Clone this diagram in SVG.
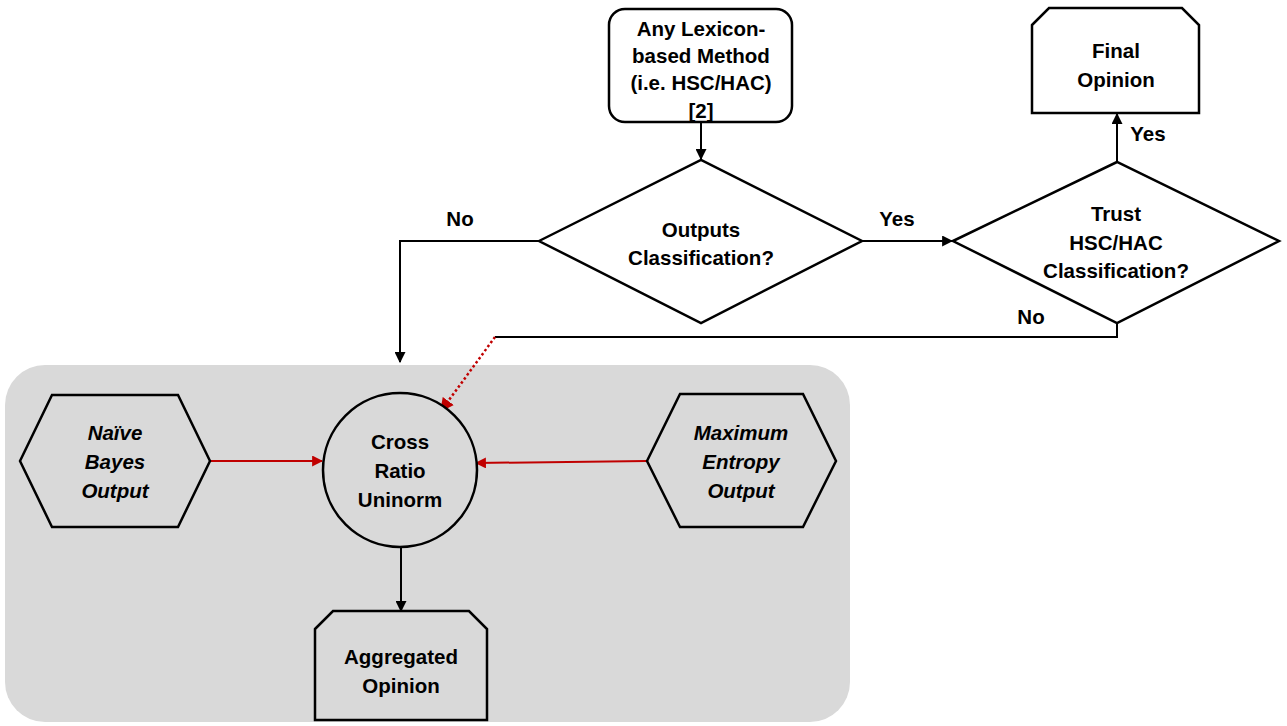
<svg xmlns="http://www.w3.org/2000/svg" width="1287" height="726" viewBox="0 0 1287 726">
<defs>
<style>
.shape{fill:#fff;stroke:#000;stroke-width:2.5}
.gshape{fill:#d9d9d9;stroke:#000;stroke-width:2.5}
.t{font-family:"Liberation Sans",Arial,sans-serif;font-weight:bold;font-size:20.5px;fill:#000;text-anchor:middle;dominant-baseline:central}
.it{font-style:italic}
.c{fill:none;stroke:#000;stroke-width:2}
.r{fill:none;stroke:#c00000;stroke-width:2}
.rd{fill:none;stroke:#c00000;stroke-width:2.5;stroke-dasharray:2.5,2.5}
</style>
<marker id="ab" viewBox="0 0 10 10" refX="9" refY="5" markerWidth="5.5" markerHeight="5.5" orient="auto"><path d="M0,0 L10,5 L0,10 z" fill="#000"/></marker>
<marker id="ar" viewBox="0 0 10 10" refX="9" refY="5" markerWidth="5.5" markerHeight="5.5" orient="auto"><path d="M0,0 L10,5 L0,10 z" fill="#c00000"/></marker>
</defs>
<rect x="0" y="0" width="1287" height="726" fill="#fff"/>
<rect id="panel" x="5" y="365" width="845" height="357" rx="40" fill="#d9d9d9"/>

<g id="connectors">
<line class="c" x1="701" y1="122" x2="701" y2="159" marker-end="url(#ab)"/>
<line class="c" x1="862" y1="241" x2="952" y2="241" marker-end="url(#ab)"/>
<line class="c" x1="1117" y1="162" x2="1117" y2="114" marker-end="url(#ab)"/>
<polyline class="c" points="539,241 400,241 400,362" marker-end="url(#ab)"/>
<polyline class="c" points="1117,323 1117,337 495,337"/>
<line class="rd" x1="495" y1="337" x2="441" y2="411" marker-end="url(#ar)"/>
<line class="r" x1="210" y1="461" x2="322" y2="461" marker-end="url(#ar)"/>
<line class="r" x1="647" y1="461" x2="476" y2="463" marker-end="url(#ar)"/>
<line class="c" x1="401" y1="547" x2="401" y2="611" marker-end="url(#ab)"/>
<text class="t" x="460" y="218">No</text>
<text class="t" x="897" y="218">Yes</text>
<text class="t" x="1148" y="133">Yes</text>
<text class="t" x="1031" y="316">No</text>
</g>

<g id="lexicon">
<rect class="shape" x="609" y="9" width="183" height="113" rx="16"/>
<text class="t" x="701" y="28">Any Lexicon-</text>
<text class="t" x="701" y="55">based Method</text>
<text class="t" x="701" y="82">(i.e. HSC/HAC)</text>
<text class="t" x="701" y="110">[2]</text>
</g>

<g id="outputs">
<polygon class="shape" points="539,241 701,160 862,241 701,323"/>
<text class="t" x="701" y="229">Outputs</text>
<text class="t" x="701" y="257">Classification?</text>
</g>

<g id="trust">
<polygon class="shape" points="953,241 1117,162 1279,241 1117,323"/>
<text class="t" x="1116" y="213">Trust</text>
<text class="t" x="1116" y="242">HSC/HAC</text>
<text class="t" x="1116" y="270">Classification?</text>
</g>

<g id="final">
<polygon class="shape" points="1032,25 1049,8 1182,8 1199,25 1199,113 1032,113"/>
<text class="t" x="1116" y="50">Final</text>
<text class="t" x="1116" y="79">Opinion</text>
</g>

<g id="naive">
<polygon class="gshape" points="20,461 52,395 178,395 210,461 178,527 52,527"/>
<text class="t it" x="115" y="432">Naïve</text>
<text class="t it" x="115" y="461">Bayes</text>
<text class="t it" x="115" y="490">Output</text>
</g>

<g id="uninorm">
<circle class="gshape" cx="400" cy="470" r="77"/>
<text class="t" x="400" y="441">Cross</text>
<text class="t" x="400" y="470">Ratio</text>
<text class="t" x="400" y="499">Uninorm</text>
</g>

<g id="maxent">
<polygon class="gshape" points="647,461 680,394 803,394 836,461 803,527 680,527"/>
<text class="t it" x="741" y="432">Maximum</text>
<text class="t it" x="741" y="461">Entropy</text>
<text class="t it" x="741" y="490">Output</text>
</g>

<g id="aggregated">
<polygon class="gshape" points="315,629 333,611 469,611 487,629 487,720 315,720"/>
<text class="t" x="401" y="656">Aggregated</text>
<text class="t" x="401" y="685">Opinion</text>
</g>
</svg>
